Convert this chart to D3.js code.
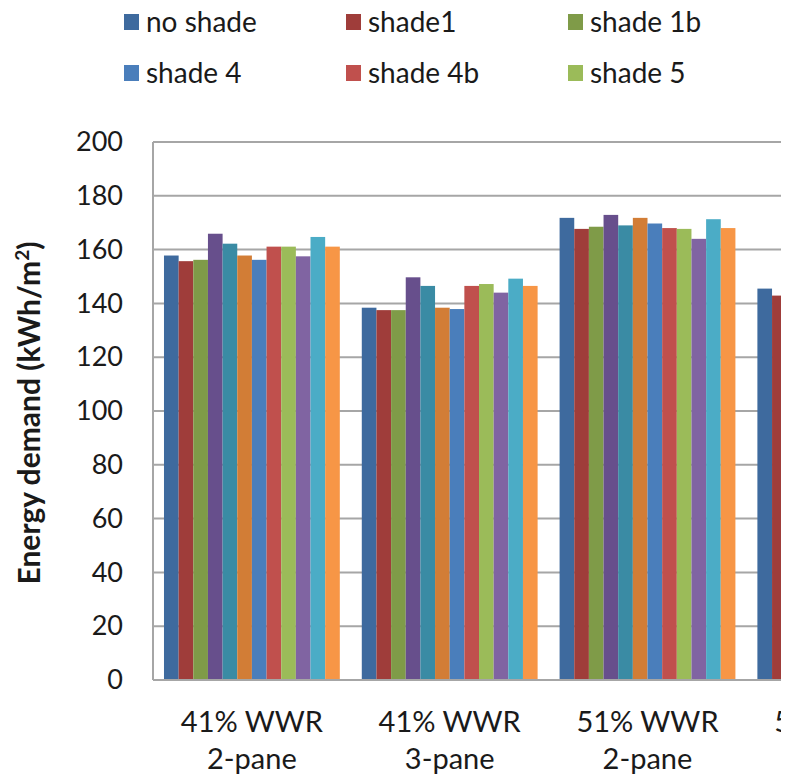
<!DOCTYPE html>
<html>
<head>
<meta charset="utf-8">
<script src="https://cdn.jsdelivr.net/npm/d3@7"></script>
<style>
  html, body { margin: 0; padding: 0; background: #ffffff; }
  svg { display: block; }
  text { font-family: Lato, "Open Sans", sans-serif; fill: #1a1a1a; }
</style>
</head>
<body>
<svg id="chart" width="787" height="779"></svg>
<script>
// Window configurations on the category axis
const categories = [
  ["41% WWR", "2-pane"],
  ["41% WWR", "3-pane"],
  ["51% WWR", "2-pane"],
  ["51% WWR", "3-pane"]
];

// Shading variants (legend names; null where the name runs off the panel)
const seriesNames = [
  "no shade", "shade1", "shade 1b", null, null, null,
  "shade 4", "shade 4b", "shade 5", null, null, null
];

const seriesColors = [
  "#3e6a9e", "#9f3d3a", "#7f9b48", "#674f8c", "#3a8ba4", "#d27d36",
  "#4a7ebb", "#c0504d", "#9bbb59", "#8064a2", "#4bacc6", "#f79646"
];

// Energy demand per series, one value per category (kWh/m²)
const s01 = [157.8, 138.4, 171.8, 145.5];
const s02 = [155.7, 137.5, 167.7, 142.9];
const s03 = [156.2, 137.5, 168.5, null];
const s04 = [165.9, 149.7, 172.9, null];
const s05 = [162.2, 146.5, 169.0, null];
const s06 = [157.8, 138.4, 171.8, null];
const s07 = [156.2, 137.9, 169.7, null];
const s08 = [161.1, 146.5, 168.0, null];
const s09 = [161.1, 147.2, 167.7, null];
const s10 = [157.5, 144.0, 164.0, null];
const s11 = [164.7, 149.2, 171.3, null];
const s12 = [161.1, 146.5, 168.0, null];
const seriesValues = [s01, s02, s03, s04, s05, s06, s07, s08, s09, s10, s11, s12];

const yTicks = [0, 20, 40, 60, 80, 100, 120, 140, 160, 180, 200];

const svg = d3.select("#chart");
const W = 787, H = 779;
const visibleRight = 781;

const plot = { left: 153, top: 142, bottom: 680, catStep: 197.8 };

svg.append("rect").attr("width", W).attr("height", H).attr("fill", "#fff");

svg.append("defs").append("clipPath").attr("id", "panel")
  .append("rect").attr("x", 0).attr("y", 0).attr("width", visibleRight).attr("height", H);

const g = svg.append("g").attr("clip-path", "url(#panel)");

const y = d3.scaleLinear().domain([0, 200]).range([plot.bottom, plot.top]);

const x0 = d3.scaleBand()
  .domain(d3.range(categories.length))
  .range([plot.left, plot.left + plot.catStep * categories.length])
  .paddingInner(0).paddingOuter(0);

// 150% gap between clusters
const gap = x0.step() * 1.5 / (seriesValues.length + 1.5);
const x1 = d3.scaleBand()
  .domain(d3.range(seriesValues.length))
  .range([gap / 2, x0.bandwidth() - gap / 2]);

// Horizontal gridlines
g.append("g")
  .selectAll("line")
  .data(yTicks.filter(t => t > 0))
  .join("line")
  .attr("x1", plot.left).attr("x2", visibleRight)
  .attr("y1", d => y(d)).attr("y2", d => y(d))
  .attr("stroke", "#a6a6a6").attr("stroke-width", 2);

// Bars
const bars = [];
seriesValues.forEach((vals, si) => {
  vals.forEach((v, ci) => { if (v != null) bars.push({ si, ci, v }); });
});
g.append("g")
  .selectAll("rect")
  .data(bars)
  .join("rect")
  .attr("x", d => x0(d.ci) + x1(d.si))
  .attr("width", x1.bandwidth())
  .attr("y", d => y(d.v))
  .attr("height", d => y(0) - y(d.v))
  .attr("fill", d => seriesColors[d.si]);

// Axis lines
g.append("line")
  .attr("x1", plot.left).attr("x2", plot.left)
  .attr("y1", plot.top).attr("y2", plot.bottom)
  .attr("stroke", "#a6a6a6").attr("stroke-width", 2);
g.append("line")
  .attr("x1", plot.left).attr("x2", visibleRight)
  .attr("y1", plot.bottom).attr("y2", plot.bottom)
  .attr("stroke", "#a6a6a6").attr("stroke-width", 2);

// Y axis tick labels
const yAxis = d3.axisLeft(y).tickValues(yTicks).tickSize(0).tickPadding(30);
const ya = g.append("g").attr("transform", `translate(${plot.left},0)`).call(yAxis);
ya.select(".domain").remove();
ya.selectAll("text").attr("font-size", 27).attr("font-family", "Lato, sans-serif").attr("fill", "#1a1a1a");

// Category labels (two lines each)
const cat = g.append("g").selectAll("text")
  .data(categories)
  .join("text")
  .attr("x", (d, i) => x0(i) + x0.bandwidth() / 2)
  .attr("y", 732)
  .attr("text-anchor", "middle")
  .attr("font-size", 29);
cat.each(function (d) {
  const t = d3.select(this);
  t.append("tspan").attr("x", t.attr("x")).attr("dy", 0).text(d[0]);
  t.append("tspan").attr("x", t.attr("x")).attr("dy", 37).text(d[1]);
});

// Y axis title
const title = g.append("text")
  .attr("transform", `translate(40,413) rotate(-90)`)
  .attr("text-anchor", "middle")
  .attr("font-size", 30)
  .attr("font-weight", 700);
title.append("tspan").text("Energy demand (kWh/m");
title.append("tspan").attr("font-size", 19).attr("dy", -11).text("2");
title.append("tspan").attr("dy", 11).text(")");

// Legend: six columns, two rows
const legend = g.append("g");
const legItems = seriesNames.map((name, i) => ({ name, i })).filter(d => d.name);
const li = legend.selectAll("g").data(legItems).join("g")
  .attr("transform", d => `translate(${124 + (d.i % 6) * 222},${d.i < 6 ? 22 : 73})`);
li.append("rect").attr("x", 0).attr("y", -8).attr("width", 15).attr("height", 16)
  .attr("fill", d => seriesColors[d.i]);
li.append("text").attr("x", 22).attr("y", 10).attr("font-size", 28).text(d => d.name);
</script>
</body>
</html>
